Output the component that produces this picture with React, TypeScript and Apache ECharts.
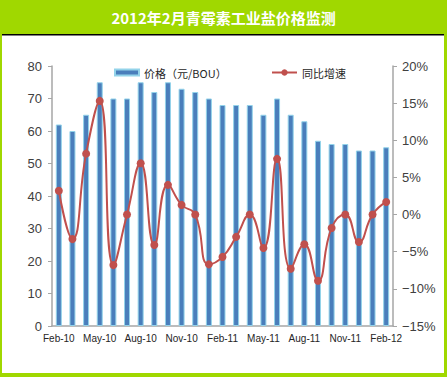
import React, { useEffect, useRef } from "react";
import * as echarts from "echarts";

const months = [
  "Feb-10", "Mar-10", "Apr-10", "May-10", "Jun-10", "Jul-10", "Aug-10", "Sep-10", "Oct-10",
  "Nov-10", "Dec-10", "Jan-11", "Feb-11", "Mar-11", "Apr-11", "May-11", "Jun-11", "Jul-11",
  "Aug-11", "Sep-11", "Oct-11", "Nov-11", "Dec-11", "Jan-12", "Feb-12",
];
const priceValues = [62, 60, 65, 75, 70, 70, 75, 72, 75, 73, 72, 70, 68, 68, 68, 65, 70, 65, 63, 57, 56, 56, 54, 54, 55];
const yoyValues = [3.2, -3.3, 8.2, 15.3, -6.8, 0, 6.9, -4.1, 4.0, 1.3, 0, -6.7, -5.7, -3.0, 0, -4.5, 7.5, -7.3, -4.0, -8.9, -1.8, 0, -3.7, 0, 1.7];
const titleText = "2012年2月青霉素工业盐价格监测";
const priceName = "价格（元/BOU）";
const yoyName = "同比增速";

const W = 447;
const H = 377;
const GREEN = "#A0D800";
const FONT = "'Noto Sans CJK SC', 'Liberation Sans', sans-serif";

export default function App() {
  const ref = useRef<HTMLDivElement>(null);
  useEffect(() => {
    if (!ref.current) return;
    const chart = echarts.init(ref.current, null, { renderer: "svg" });
    chart.setOption({
      animation: false,
      backgroundColor: "#ffffff",
      textStyle: { fontFamily: FONT },
      graphic: [
        { type: "rect", shape: { x: 0, y: 0, width: W, height: 34 }, style: { fill: GREEN }, silent: true },
        { type: "rect", shape: { x: 0, y: 0, width: 2, height: H }, style: { fill: GREEN }, silent: true },
        { type: "rect", shape: { x: 444, y: 0, width: 3, height: H }, style: { fill: GREEN }, silent: true },
        { type: "rect", shape: { x: 0, y: 373, width: W, height: 4 }, style: { fill: GREEN }, silent: true },
        { type: "rect", shape: { x: 2, y: 34, width: 442, height: 1.5 }, style: { fill: "#000000" }, silent: true },
        {
          type: "text",
          x: W / 2,
          y: 17,
          style: {
            text: titleText,
            fill: "#ffffff",
            font: `bold 15px ${FONT}`,
            textAlign: "center",
            textVerticalAlign: "middle",
          },
          silent: true,
        },
      ],
      legend: [
        {
          data: [{ name: priceName, icon: "rect" }],
          left: 109,
          top: 62,
          itemWidth: 24,
          itemHeight: 6,
          itemGap: 4,
          textStyle: { fontSize: 11, color: "#262626", fontFamily: FONT },
        },
        {
          data: [yoyName],
          left: 266,
          top: 62,
          itemWidth: 25,
          itemHeight: 8,
          textStyle: { fontSize: 11, color: "#262626", fontFamily: FONT },
        },
      ],
      grid: { left: 52, right: 54, top: 66, bottom: 51, containLabel: false },
      xAxis: {
        type: "category",
        data: months,
        boundaryGap: true,
        axisLine: { lineStyle: { color: "#A6A6A6", width: 1.5 } },
        axisTick: { interval: 2, length: 5, lineStyle: { color: "#A6A6A6" } },
        axisLabel: { interval: 2, fontSize: 10, color: "#262626", margin: 7, fontFamily: "'Liberation Sans', sans-serif" },
        splitLine: { show: false },
      },
      yAxis: [
        {
          type: "value",
          min: 0,
          max: 80,
          interval: 10,
          position: "left",
          axisLine: { show: true, lineStyle: { color: "#A6A6A6", width: 1.5 } },
          axisTick: { show: true, length: 4, lineStyle: { color: "#A6A6A6" } },
          axisLabel: { fontSize: 13, color: "#404040", margin: 10, fontFamily: "'Liberation Sans', sans-serif" },
          splitLine: { show: false },
        },
        {
          type: "value",
          min: -15,
          max: 20,
          interval: 5,
          position: "right",
          axisLine: { show: true, lineStyle: { color: "#A6A6A6", width: 1.5 } },
          axisTick: { show: true, length: 4, lineStyle: { color: "#A6A6A6" } },
          axisLabel: {
            fontSize: 13,
            color: "#404040",
            margin: 9,
            fontFamily: "'Liberation Sans', sans-serif",
            formatter: (v: number) => (v < 0 ? "\u2212" + Math.abs(v) : String(v)) + "%",
          },
          splitLine: { show: false },
        },
      ],
      series: [
        {
          name: priceName,
          type: "bar",
          data: priceValues,
          yAxisIndex: 0,
          barWidth: 6,
          itemStyle: { color: "#4A7EBB", borderColor: "#93D3EA", borderWidth: 1 },
        },
        {
          name: yoyName,
          type: "line",
          data: yoyValues,
          yAxisIndex: 1,
          smooth: 0.5,
          symbol: "circle",
          symbolSize: 8,
          lineStyle: { color: "#C0504D", width: 2 },
          itemStyle: { color: "#C0504D" },
        },
      ],
    });
    return () => chart.dispose();
  }, []);
  return (
    <div
      ref={ref}
      style={{ position: "absolute", left: 0, top: 0, width: W, height: H }}
    />
  );
}
